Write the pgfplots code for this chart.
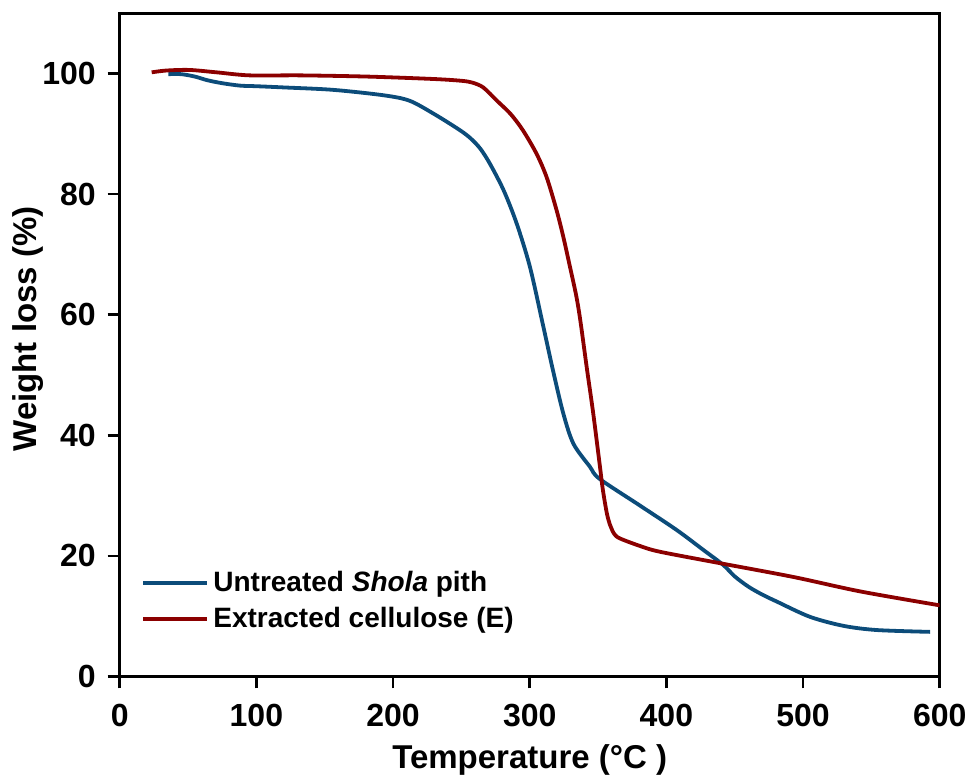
\documentclass[border=0pt]{standalone}
\usepackage{pgfplots}
\pgfplotsset{compat=1.18}
\usepackage{fontspec}
\setmainfont{Liberation Sans}
\definecolor{cblue}{RGB}{12,76,122}
\definecolor{cred}{RGB}{139,0,0}
\begin{document}
\begin{tikzpicture}
\begin{axis}[
  scale only axis, width=410pt, height=331.6pt,
  xmin=0, xmax=600, ymin=0, ymax=110,
  xtick={0,100,...,600}, ytick={0,20,...,100},
  tick align=outside, xtick pos=bottom, ytick pos=left,
  major tick length=6pt,
  line width=1.35pt,
  every tick/.style={black, line width=1.3pt},
  /pgf/number format/assume math mode=true,
  tick label style={font=\fontsize{16}{18}\selectfont\bfseries},
  xticklabel style={yshift=-4pt},
  yticklabel style={xshift=-2pt},
  xlabel={Temperature (°C )}, ylabel={Weight loss (\%)},
  label style={font=\fontsize{16.5}{19}\selectfont\bfseries},
  xlabel style={yshift=-1.5pt},
  ylabel style={yshift=-8pt, xshift=8pt},
  legend style={draw=none, fill=none, at={(rel axis cs:0.025,0.167)}, anchor=north west,
    font=\fontsize{14}{16}\selectfont\bfseries, row sep=2.5pt, inner sep=0pt},
  legend cell align=left,
  legend image code/.code={\draw[#1, line width=1.9pt] (0pt,0pt) -- (32pt,0pt);},
]
\addplot[cblue, line width=1.9pt, smooth] coordinates {
(35.6,99.9) (45,99.9) (55,99.5) (64,98.9) (75,98.4) (88,98.0) (100,97.9) (120,97.7) (156,97.3)
(193,96.4) (212,95.5) (230,93.3) (249,90.6) (257,89.2) (264,87.5) (271,85.0) (281,80.6)
(290.5,75.1) (300.2,67.9) (310,58.0) (317,50.8) (324.6,43.6) (332,38.6) (344,34.8) (351,32.8)
(381,28.3) (407.5,24.3) (427,21.0) (441.6,18.5) (450,16.6) (460,14.9) (470,13.6) (481,12.4) (505,9.9)
(529.5,8.4) (554,7.7) (593,7.4)
};
\addlegendentry{Untreated \textit{Shola} pith}
\addplot[cred, line width=1.9pt, smooth] coordinates {
(23.4,100.2) (34,100.5) (51,100.6) (71,100.2) (95,99.7) (132,99.7) (181,99.5)
(229.5,99.1) (250,98.8) (258,98.5) (266,97.7) (276,95.5) (286,93.3) (295,90.6)
(305,86.7) (312.4,82.8) (319.7,77.3) (324.6,72.9) (329.5,67.9) (334,63.2) (337,59.1) (341.7,51.3)
(346.5,43.6) (351.4,34.8) (353.5,31.0) (356.5,27.0) (359,25.0) (362,23.6) (366,22.9)
(380,21.7) (395,20.7) (439,18.8) (493,16.5) (542,14.1) (600,11.8)
};
\addlegendentry{Extracted cellulose (E)}
\coordinate (bl) at (rel axis cs:-0.146,-0.159);
\coordinate (tr) at (rel axis cs:1.0406,1.020);
\end{axis}
\pgfresetboundingbox
\path (bl) rectangle (tr);
\end{tikzpicture}
\end{document}
